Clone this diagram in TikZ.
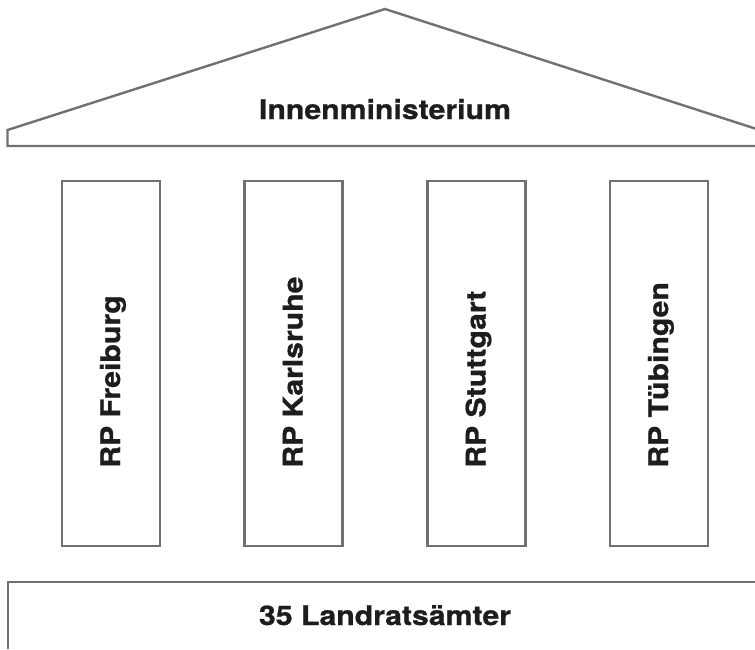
\documentclass[tikz,border=0pt]{standalone}
\usepackage{fontspec}
\usepackage{tikz}
\usetikzlibrary{positioning}
\setmainfont{TeX Gyre Heros}[FakeStretch=1.12, BoldFeatures={FakeBold=0.8}]
\definecolor{edgegray}{RGB}{112,112,117}
\definecolor{inkblack}{RGB}{29,29,31}

\begin{document}
\begin{tikzpicture}[
    x=1pt, y=-1pt,
    outline/.style={draw=edgegray, line width=2.4pt},
    pillar/.style={outline, minimum width=98pt, minimum height=365pt,
                   inner sep=0pt, outer sep=0pt},
    pillartext/.style={rotate=90, anchor=base west, inner sep=0pt,
                   text=inkblack, font=\fontsize{27}{31}\selectfont\bfseries},
    title/.style={anchor=base, inner sep=0pt, text=inkblack,
                  font=\fontsize{27}{31}\selectfont\bfseries}
  ]
    \useasboundingbox (0,0) rectangle (755,649);
    % roof
    \draw[outline, line join=miter] (755,146) -- (7.5,146) -- (7.5,130)
      -- (385,9) -- (755,128.5);
    \node[title] (ministry) at (385,119) {Innenministerium};
    % pillars
    \node[pillar] (freiburg)   at (111,363.5)   {};
    \node[pillar] (karlsruhe)  at (293.5,363.5) {};
    \node[pillar] (stuttgart)  at (476.5,363.5) {};
    \node[pillar] (tuebingen)  at (659,363.5)   {};
    \node[pillartext] (freiburgname)  at (120,468)   {RP Freiburg};
    \node[pillartext] (karlsruhename) at (302.5,468) {RP Karlsruhe};
    \node[pillartext] (stuttgartname) at (485.5,468) {RP Stuttgart};
    \node[pillartext] (tuebingenname) at (668,468)   {RP Tübingen};
    % base
    \draw[outline, line join=miter] (8,649) -- (8,582) -- (755,582);
    \node[title] (districts) at (385,625) {35 Landratsämter};
  \end{tikzpicture}
\end{document}
